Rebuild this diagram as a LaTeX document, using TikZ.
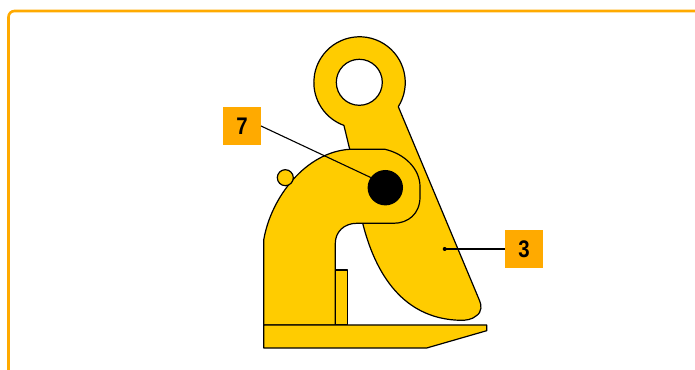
\documentclass[tikz,border=0pt]{standalone}
\usepackage{fontspec}
\setmainfont{Liberation Sans}
\definecolor{clampyellow}{HTML}{FFCC00}
\definecolor{tagorange}{HTML}{FFAA00}
\newcommand{\tagdigit}[1]{\scalebox{0.85}[1]{\fontsize{24}{24}\selectfont\bfseries #1}}
\tikzset{
  part/.style={draw=black,fill=clampyellow,line width=1.2pt,line join=round},
  frameline/.style={draw=tagorange,line width=2.6pt,rounded corners=6pt},
  tag/.style={fill=tagorange,minimum size=38pt,inner sep=0pt,outer sep=0pt},
  leader/.style={draw=black,line width=1.1pt},
}
\begin{document}
\begin{tikzpicture}[x=1pt,y=1pt]
\clip (0,0) rectangle (695,369);
\fill[white] (0,0) rectangle (695,369);
\draw[frameline] (8.5,-10) -- (8.5,358) -- (705,358);
% lifting eye and cam
\draw[part,even odd rule] (398.3,262.3) arc[start angle=-32,end angle=250,radius=45.7]
  -- (349.7,219.7) -- (362.7,145.7)
  .. controls (378,85) and (410,50) .. (460,48.7)
  .. controls (466,48.5) and (472,49.5) .. (476,53)
  .. controls (482.5,57) and (481.5,64.5) .. (479.3,69)
  -- cycle
  (382.3,286.7) arc[start angle=0,end angle=360,radius=23];
% small block
\draw[part] (335.3,44) rectangle (347.3,99);
% body
\draw[part] (263.7,44) -- (263.7,129)
  .. controls (271,172) and (306,217) .. (349.7,219.7)
  -- (385,219.7)
  .. controls (405,215) and (420,200) .. (420,182.3)
  -- (420,172)
  .. controls (420,155) and (408,145.7) .. (393.3,145.7)
  -- (356.7,145.7)
  .. controls (344,145.7) and (335.3,137) .. (335.3,125.7)
  -- (335.3,44) -- cycle;
% small stud
\draw[part] (285.3,191.3) circle[radius=8];
% base
\draw[part] (263.7,44) -- (486.7,44) -- (486.7,38.3) -- (426.7,21) -- (263.7,21) -- cycle;
% pin
\node[circle,fill=black,minimum size=35.4pt,inner sep=0pt,outer sep=0pt] (pin) at (385.3,181.3) {};
\node[circle,fill=black,minimum size=4pt,inner sep=0pt,outer sep=0pt] (dot) at (444.7,120) {};
% tags
\node[tag] (tagseven) at (242,243) {\tagdigit{7}};
\node[tag] (tagthree) at (524,120) {\tagdigit{3}};
\draw[leader] (tagseven.east) -- (pin.145);
\draw[leader] (tagthree.west) -- (dot.center);
\end{tikzpicture}
\end{document}
